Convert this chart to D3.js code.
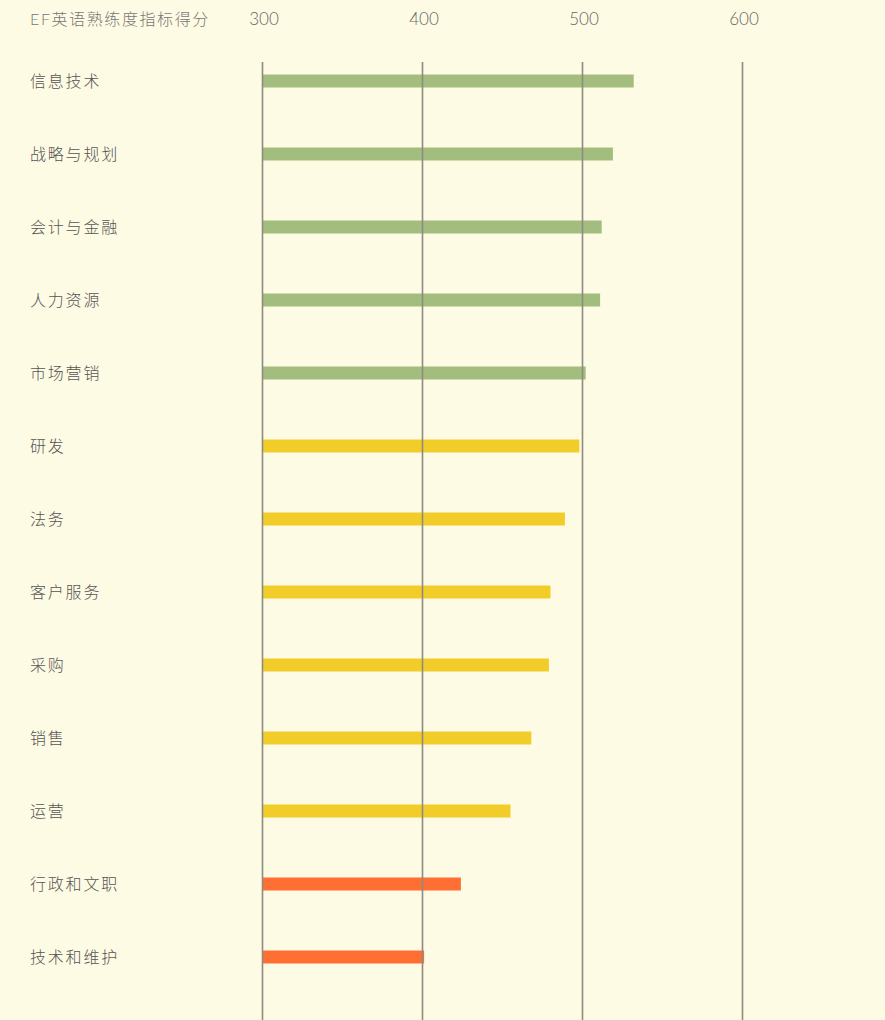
<!DOCTYPE html>
<html>
<head>
<meta charset="utf-8">
<script src="https://cdn.jsdelivr.net/npm/d3@7"></script>
<style>
  body { margin: 0; background: #fefbe4; }
  text { font-family: Lato, "Noto Sans CJK SC", sans-serif; }
</style>
</head>
<body>
<div id="graf"></div>
<script>
// datos
categorias = ['信息技术', '战略与规划', '会计与金融', '人力资源', '市场营销', '研发', '法务',
        '客户服务', '采购', '销售', '运营', '行政和文职', '技术和维护']
puntajes = [532, 519, 512, 511, 502, 498, 489, 480, 479, 468, 455, 424, 401]
niveles = ['alto', 'alto', 'alto', 'alto', 'alto', 'medio', 'medio', 'medio', 'medio', 'medio', 'medio', 'bajo', 'bajo']
ticks = [300, 400, 500, 600]
titulo = 'EF英语熟练度指标得分'

ancho_total = 885
alto_total = 1020

svg = d3.select('#graf').append('svg')
        .attr('width', ancho_total)
        .attr('height', alto_total)

color = d3.scaleOrdinal()
        .domain(['alto', 'medio', 'bajo'])
        .range(['#a3bd7f', '#f2cd2a', '#ff6f33'])

x = d3.scaleLinear().domain([300, 600]).range([262.5, 742.5])
y = d3.scaleBand().domain(categorias).range([44.5, 44.5 + 73 * categorias.length])

datos = categorias.map((c, i) => ({ cat: c, valor: puntajes[i], nivel: niveles[i] }))

altoBarra = 13

// barras
svg.selectAll('rect.barra')
        .data(datos)
        .enter()
        .append('rect')
        .attr('class', 'barra')
        .attr('x', x(300))
        .attr('y', d => y(d.cat) + (y.bandwidth() - altoBarra) / 2)
        .attr('width', d => x(d.valor) - x(300))
        .attr('height', altoBarra)
        .attr('fill', d => color(d.nivel))

// lineas de la grilla, encima de las barras
svg.selectAll('line.grid')
        .data(ticks)
        .enter()
        .append('line')
        .attr('class', 'grid')
        .attr('x1', d => x(d))
        .attr('x2', d => x(d))
        .attr('y1', 62)
        .attr('y2', alto_total)
        .attr('stroke', '#8c8a82')
        .attr('stroke-width', 1.6)

// etiquetas del eje
svg.selectAll('text.tick')
        .data(ticks)
        .enter()
        .append('text')
        .attr('class', 'tick')
        .attr('x', d => x(d) + 1.5)
        .attr('y', 25)
        .attr('text-anchor', 'middle')
        .attr('font-size', 17)
        .attr('font-weight', 300)
        .attr('fill', '#666')
        .text(d => d)

svg.append('text')
        .attr('x', 30)
        .attr('y', 25)
        .attr('font-size', 16)
        .attr('font-weight', 300)
        .attr('letter-spacing', 1.6)
        .attr('fill', '#777')
        .text(titulo)

// categorias
svg.selectAll('text.cat')
        .data(datos)
        .enter()
        .append('text')
        .attr('class', 'cat')
        .attr('x', 30)
        .attr('y', d => y(d.cat) + y.bandwidth() / 2 + 6)
        .attr('font-size', 16)
        .attr('font-weight', 300)
        .attr('letter-spacing', 1.8)
        .attr('fill', '#555')
        .text(d => d.cat)
</script>
</body>
</html>
